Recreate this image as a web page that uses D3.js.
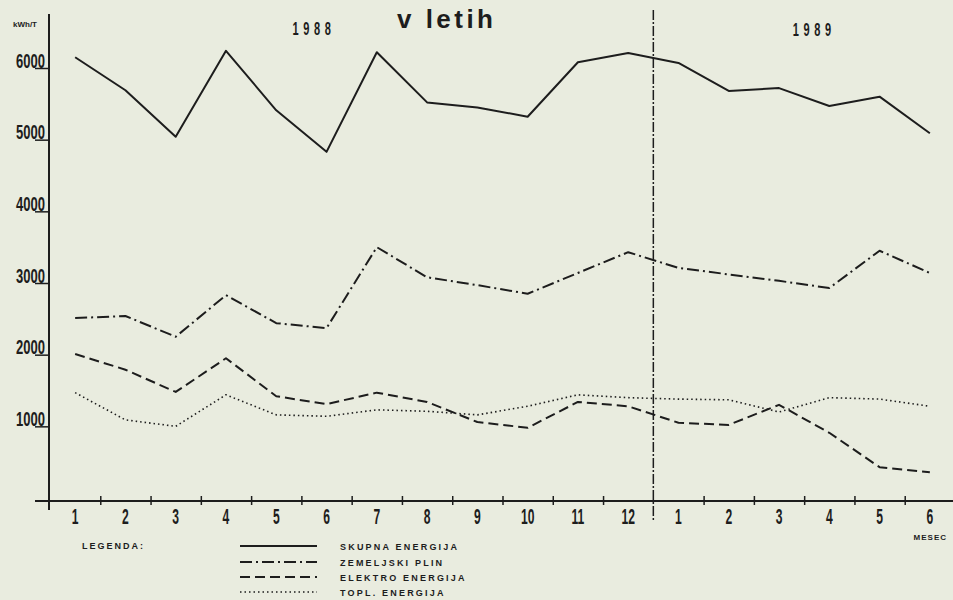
<!DOCTYPE html>
<html>
<head>
<meta charset="utf-8">
<script src="https://cdn.jsdelivr.net/npm/d3@7"></script>
<style>
  body { margin: 0; background: #e9ecdf; }
  svg { display: block; }
  text { fill: #1d1d1d; font-family: 'Liberation Sans', Arial, sans-serif; }
</style>
</head>
<body>
<div id="chart"></div>
<script>
// months, 1988 (1-12) then 1989 (1-6)
const months = ['1','2','3','4','5','6','7','8','9','10','11','12','1','2','3','4','5','6'];
const years = ['1988', '1989'];
const yTicks = [1000, 2000, 3000, 4000, 5000, 6000];

// kWh/T per month
const skupna  = [6150, 5690, 5040, 6240, 5410, 4830, 6220, 5520, 5450, 5320, 6080, 6210, 6070, 5680, 5720, 5470, 5600, 5090];
const plin    = [2510, 2540, 2250, 2830, 2440, 2370, 3500, 3080, 2970, 2850, 3140, 3430, 3210, 3120, 3030, 2930, 3450, 3140];
const elektro = [2010, 1790, 1480, 1950, 1420, 1310, 1470, 1340, 1060,  980, 1340, 1280, 1050, 1020, 1300,  910,  430,  360];
const topl    = [1470, 1090, 1000, 1440, 1160, 1140, 1230, 1210, 1160, 1280, 1440, 1400, 1380, 1370, 1200, 1400, 1380, 1280];

const seriesNames = ['SKUPNA ENERGIJA', 'ZEMELJSKI PLIN', 'ELEKTRO ENERGIJA', 'TOPL. ENERGIJA'];
const seriesDash = [null, '12,4,2,4', '10,5', '1.5,3'];
const seriesWidth = [2, 2, 2, 1.6];
const seriesData = [skupna, plin, elektro, topl];

const width = 953;
const height = 600;
const ink = '#1d1d1d';

const svg = d3.select('#chart').append('svg')
  .attr('width', width)
  .attr('height', height);

const xEdge = d3.scaleLinear().domain([0, months.length]).range([50, 955]);
const x = d3.scaleBand().domain(d3.range(months.length)).range([50, 955]);
const y = d3.scaleLinear().domain([0, 6000]).range([498, 68]);

// y axis
const yAxis = svg.append('g')
  .attr('transform', 'translate(49,0)')
  .call(d3.axisLeft(y).tickValues(yTicks).tickSize(14).tickFormat(d3.format('d')));
yAxis.select('.domain').remove();
yAxis.selectAll('line').attr('stroke', ink).attr('stroke-width', 1.5);
yAxis.selectAll('text')
  .attr('x', null).attr('dy', null)
  .attr('text-anchor', 'end')
  .attr('transform', 'translate(-4,-1) scale(0.62,1)')
  .style('font-size', '21px')
  .style('font-weight', 'bold')
  .style('fill', ink);
svg.append('line')
  .attr('x1', 49).attr('x2', 49).attr('y1', 14).attr('y2', 510)
  .attr('stroke', ink).attr('stroke-width', 2);

svg.append('text')
  .attr('x', 13).attr('y', 27)
  .style('font-size', '8px').style('font-weight', 'bold')
  .text('kWh/T');

// x axis
svg.append('line')
  .attr('x1', 35).attr('x2', width).attr('y1', 501).attr('y2', 501)
  .attr('stroke', ink).attr('stroke-width', 2);

const xTicks = svg.append('g')
  .attr('transform', 'translate(0,505)')
  .call(d3.axisBottom(xEdge)
    .tickValues(d3.range(1, months.length).filter(i => i !== 12))
    .tickSize(-9).tickFormat(''));
xTicks.select('.domain').remove();
xTicks.selectAll('line').attr('stroke', ink).attr('stroke-width', 1.5);

const xLabels = svg.append('g')
  .attr('transform', 'translate(0,501)')
  .call(d3.axisBottom(x).tickSize(0).tickFormat(i => months[i]));
xLabels.select('.domain').remove();
xLabels.selectAll('text')
  .attr('y', null).attr('dy', null)
  .attr('transform', 'translate(0,23) scale(0.55,1)')
  .style('font-size', '22px')
  .style('font-weight', 'bold')
  .style('fill', ink);

svg.append('text')
  .attr('x', 947).attr('y', 540)
  .attr('text-anchor', 'end')
  .style('font-size', '8px').style('font-weight', 'bold').style('letter-spacing', '1px')
  .text('MESEC');

// year divider
svg.append('line')
  .attr('x1', xEdge(12)).attr('x2', xEdge(12))
  .attr('y1', 10).attr('y2', 520)
  .attr('stroke', ink).attr('stroke-width', 1.5)
  .attr('stroke-dasharray', '10,2,2,2');

// year labels and title
svg.selectAll('.year')
  .data(years)
  .enter().append('text')
  .attr('class', 'year')
  .attr('text-anchor', 'middle')
  .attr('transform', (d, i) => `translate(${xEdge(i === 0 ? 5.25 : 15.2)},${i === 0 ? 35 : 36}) scale(0.58,1)`)
  .style('font-size', '19px')
  .style('font-weight', 'bold')
  .style('letter-spacing', '8px')
  .text(d => d);

svg.append('text')
  .attr('x', 397).attr('y', 28)
  .attr('textLength', 96).attr('lengthAdjust', 'spacing')
  .style('font-size', '26px').style('font-weight', 'bold')
  .text('v letih');

// series lines
const line = d3.line()
  .x((d, i) => x(i) + x.bandwidth() / 2)
  .y(d => y(d));

svg.selectAll('.series')
  .data(seriesData)
  .enter().append('path')
  .attr('class', 'series')
  .attr('d', d => line(d))
  .attr('fill', 'none')
  .attr('stroke', ink)
  .attr('stroke-width', (d, i) => seriesWidth[i])
  .attr('stroke-linejoin', 'round')
  .attr('stroke-dasharray', (d, i) => seriesDash[i]);

// legend
svg.append('text')
  .attr('x', 82).attr('y', 549)
  .style('font-size', '9px').style('font-weight', 'bold').style('letter-spacing', '2px')
  .text('LEGENDA:');

const legend = svg.selectAll('.legend')
  .data(seriesNames)
  .enter().append('g')
  .attr('class', 'legend')
  .attr('transform', (d, i) => `translate(0,${[546, 562, 577, 592][i]})`);

legend.append('line')
  .attr('x1', 240).attr('x2', 317)
  .attr('stroke', ink)
  .attr('stroke-width', (d, i) => seriesWidth[i])
  .attr('stroke-dasharray', (d, i) => seriesDash[i]);

legend.append('text')
  .attr('x', 340).attr('y', 3.5)
  .style('font-size', '9px').style('font-weight', 'bold').style('letter-spacing', '2.2px')
  .text(d => d);
</script>
</body>
</html>
